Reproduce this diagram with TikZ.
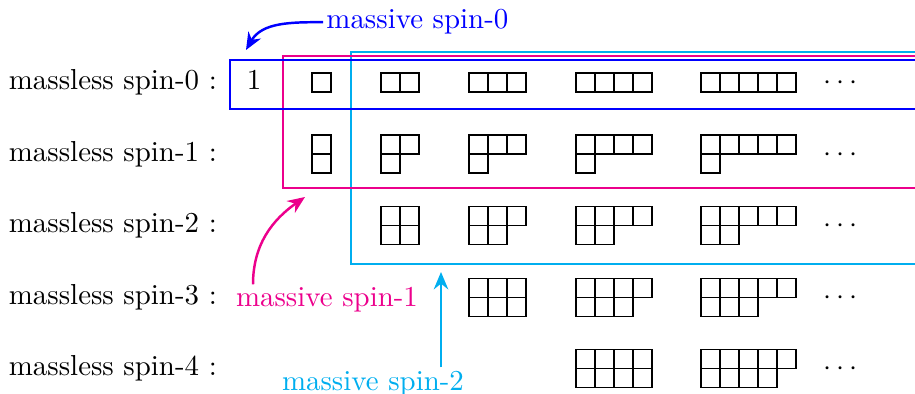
\documentclass[tikz,border=0pt]{standalone}
\usepackage{tikz}
\usepackage{amsmath}
\usetikzlibrary{arrows.meta}
\definecolor{mzero}{RGB}{0,0,255}
\definecolor{mone}{RGB}{236,0,140}
\definecolor{mtwo}{RGB}{0,174,239}
\newcommand{\yng}[4]{%
  \foreach \c in {1,...,#3} \draw[cell] (#1+19*\c-19,#2) rectangle ++(19,-19);
  \ifnum#4>0 \foreach \c in {1,...,#4} \draw[cell] (#1+19*\c-19,#2-19) rectangle ++(19,-19);\fi}
\begin{document}
\begin{tikzpicture}
[
    x=0.346pt, y=0.346pt,
    cell/.style={line width=0.4pt},
    frame/.style={line width=0.75pt},
    note/.style={inner sep=1pt},
    pointer/.style={-{Stealth[length=6pt,width=5pt]}, line width=0.85pt},
]
\useasboundingbox (0,0) rectangle (915,-394);
\foreach \k in {0,...,4}{
\node [anchor=base east] (lab\k) at (227,-89.7-71.55*\k) {massless spin-\k\ :};
\node [anchor=base] (dots\k) at (843,-89.7-71.55*\k) {$\cdots$};
}
\node [anchor=base] (one) at (254,-89.7) {1};
\foreach \j/\x in {1/312,2/381,3/469,4/576,5/701}{
\yng{\x}{-73}{\j}{0}
\foreach \k in {1,...,4}{\ifnum\k>\j\else\yng{\x}{-63.5-71.55*\k}{\j}{\k}\fi}
}
\draw [frame, mtwo] (351,-52.3) rectangle (925,-264);
\draw [frame, mone] (283.3,-56) rectangle (925,-188.3);
\draw [frame, mzero] (230,-60) rectangle (925,-108.7);
\coordinate (m0tip) at (246,-50);
\coordinate (m1tip) at (305,-197);
\coordinate (m2tip) at (441,-272);
\node [note, mzero, anchor=base west] (ms0) at (323,-29) {massive spin-0};
\node [note, mone, anchor=base] (ms1) at (327,-307) {massive spin-1};
\node [note, mtwo, anchor=base] (ms2) at (373,-390) {massive spin-2};
\draw [pointer, mzero] (ms0.west) to[out=180, in=60] (m0tip);
\draw [pointer, mone] ([xshift=-25.6pt]ms1.north) to[out=90, in=215] (m1tip);
\draw [pointer, mtwo] (ms2.north -| m2tip) -- (m2tip);
\end{tikzpicture}
\end{document}
